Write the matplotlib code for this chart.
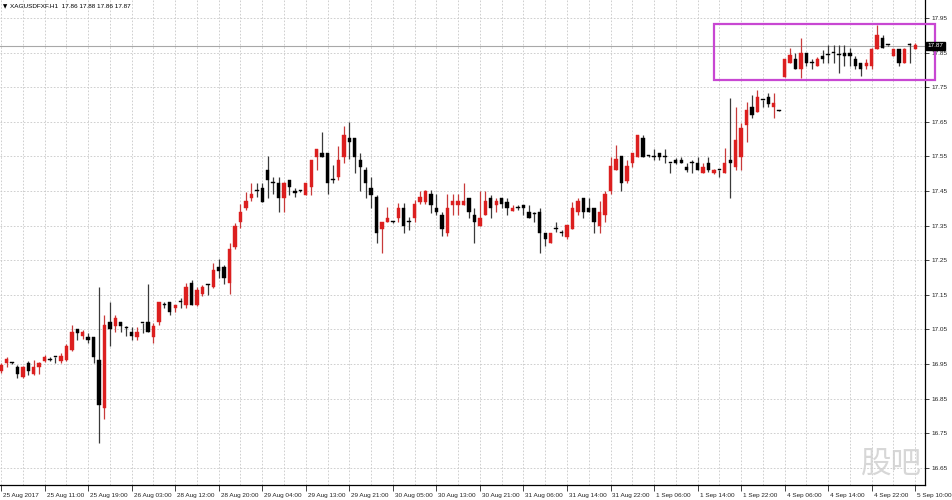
import matplotlib
matplotlib.use("Agg")
import matplotlib.pyplot as plt
import matplotlib.transforms as mtrans
from matplotlib.patches import Rectangle
import numpy as np

plt.rcParams['font.family'] = ['Liberation Sans', 'DejaVu Sans']

# XAGUSDFXF H1 candles, 25 Aug 2017 .. 5 Sep 2017
opens = [
    16.930, 16.953, 16.953, 16.941, 16.912, 16.953, 16.921, 16.941, 16.959, 16.962,
    16.970, 16.959, 16.962, 16.991, 17.051, 17.031, 17.028, 17.028, 16.962, 16.823,
    17.071, 17.060, 17.071, 17.054, 17.043, 17.028, 17.069, 17.071, 17.028, 17.071,
    17.121, 17.129, 17.112, 17.129, 17.121, 17.184, 17.121, 17.152, 17.178, 17.173,
    17.230, 17.230, 17.184, 17.288, 17.360, 17.401, 17.430, 17.450, 17.459, 17.511,
    17.473, 17.473, 17.430, 17.482, 17.450, 17.450, 17.438, 17.462, 17.548, 17.560,
    17.560, 17.482, 17.490, 17.548, 17.603, 17.603, 17.540, 17.511, 17.459, 17.433,
    17.340, 17.360, 17.360, 17.372, 17.401, 17.360, 17.372, 17.418, 17.418, 17.441,
    17.401, 17.381, 17.329, 17.410, 17.410, 17.410, 17.430, 17.381, 17.349, 17.381,
    17.430, 17.410, 17.430, 17.418, 17.392, 17.401, 17.410, 17.389, 17.384, 17.389,
    17.329, 17.300, 17.340, 17.329, 17.317, 17.340, 17.389, 17.430, 17.401, 17.401,
    17.349, 17.381, 17.450, 17.511, 17.551, 17.479, 17.531, 17.548, 17.603, 17.551,
    17.548, 17.560, 17.548, 17.531, 17.540, 17.540, 17.519, 17.531, 17.531, 17.502,
    17.531, 17.502, 17.511, 17.502, 17.540, 17.519, 17.548, 17.641, 17.693, 17.678,
    17.713, 17.722, 17.693, 17.681, 17.780, 17.820, 17.831, 17.803, 17.849, 17.820,
    17.811, 17.840, 17.843, 17.849, 17.843, 17.849, 17.849, 17.831, 17.820, 17.811,
    17.811, 17.860, 17.892, 17.872, 17.840, 17.860, 17.820, 17.872, 17.860]
highs = [
    16.953, 16.970, 16.956, 16.947, 16.944, 16.959, 16.962, 16.956, 16.976, 16.970,
    16.970, 16.982, 17.008, 17.063, 17.051, 17.048, 17.040, 17.028, 17.173, 17.092,
    17.129, 17.092, 17.071, 17.060, 17.057, 17.057, 17.069, 17.181, 17.069, 17.129,
    17.129, 17.129, 17.121, 17.141, 17.184, 17.193, 17.173, 17.178, 17.181, 17.242,
    17.253, 17.236, 17.300, 17.358, 17.412, 17.447, 17.473, 17.473, 17.473, 17.551,
    17.490, 17.490, 17.476, 17.482, 17.459, 17.453, 17.473, 17.540, 17.571, 17.621,
    17.560, 17.525, 17.580, 17.638, 17.649, 17.603, 17.560, 17.519, 17.490, 17.438,
    17.360, 17.404, 17.363, 17.415, 17.415, 17.375, 17.424, 17.450, 17.453, 17.453,
    17.441, 17.389, 17.441, 17.441, 17.441, 17.473, 17.430, 17.401, 17.450, 17.450,
    17.438, 17.430, 17.430, 17.430, 17.410, 17.410, 17.410, 17.410, 17.389, 17.401,
    17.329, 17.329, 17.360, 17.337, 17.352, 17.418, 17.430, 17.430, 17.430, 17.401,
    17.421, 17.450, 17.548, 17.583, 17.551, 17.540, 17.560, 17.612, 17.612, 17.554,
    17.571, 17.560, 17.571, 17.531, 17.545, 17.548, 17.531, 17.540, 17.548, 17.531,
    17.548, 17.514, 17.511, 17.574, 17.719, 17.693, 17.647, 17.707, 17.727, 17.742,
    17.713, 17.733, 17.733, 17.684, 17.831, 17.863, 17.849, 17.892, 17.849, 17.831,
    17.837, 17.858, 17.872, 17.872, 17.872, 17.872, 17.863, 17.840, 17.820, 17.831,
    17.863, 17.930, 17.901, 17.872, 17.860, 17.860, 17.863, 17.878, 17.878]
lows = [
    16.924, 16.941, 16.950, 16.910, 16.910, 16.918, 16.918, 16.921, 16.956, 16.959,
    16.953, 16.953, 16.959, 16.988, 17.019, 17.022, 17.011, 16.953, 16.722, 16.791,
    17.002, 17.043, 17.043, 17.031, 17.019, 17.019, 17.040, 17.043, 17.011, 17.063,
    17.112, 17.092, 17.100, 17.112, 17.112, 17.121, 17.118, 17.147, 17.149, 17.170,
    17.199, 17.181, 17.152, 17.282, 17.343, 17.395, 17.421, 17.433, 17.418, 17.430,
    17.441, 17.389, 17.389, 17.438, 17.433, 17.447, 17.438, 17.438, 17.511, 17.548,
    17.441, 17.473, 17.482, 17.531, 17.542, 17.502, 17.450, 17.430, 17.401, 17.300,
    17.271, 17.360, 17.358, 17.360, 17.329, 17.337, 17.360, 17.412, 17.412, 17.386,
    17.381, 17.320, 17.320, 17.381, 17.381, 17.410, 17.372, 17.300, 17.349, 17.381,
    17.372, 17.389, 17.401, 17.381, 17.392, 17.395, 17.381, 17.372, 17.360, 17.271,
    17.291, 17.300, 17.332, 17.320, 17.311, 17.340, 17.381, 17.372, 17.389, 17.329,
    17.329, 17.360, 17.441, 17.511, 17.450, 17.473, 17.519, 17.548, 17.548, 17.548,
    17.540, 17.540, 17.531, 17.502, 17.528, 17.531, 17.505, 17.502, 17.511, 17.502,
    17.505, 17.499, 17.490, 17.502, 17.430, 17.511, 17.511, 17.592, 17.661, 17.678,
    17.693, 17.693, 17.661, 17.681, 17.780, 17.820, 17.803, 17.777, 17.811, 17.803,
    17.811, 17.820, 17.820, 17.820, 17.791, 17.811, 17.811, 17.803, 17.782, 17.803,
    17.803, 17.860, 17.863, 17.869, 17.840, 17.811, 17.820, 17.820, 17.860]
closes = [
    16.947, 16.965, 16.953, 16.921, 16.941, 16.930, 16.941, 16.953, 16.970, 16.962,
    16.970, 16.973, 17.002, 17.043, 17.040, 17.043, 17.019, 16.970, 16.832, 17.063,
    17.051, 17.083, 17.060, 17.054, 17.031, 17.043, 17.069, 17.043, 17.060, 17.129,
    17.121, 17.100, 17.121, 17.129, 17.173, 17.121, 17.164, 17.173, 17.178, 17.222,
    17.219, 17.199, 17.282, 17.349, 17.389, 17.421, 17.441, 17.450, 17.418, 17.482,
    17.473, 17.430, 17.473, 17.462, 17.444, 17.450, 17.473, 17.540, 17.571, 17.548,
    17.473, 17.482, 17.540, 17.612, 17.592, 17.548, 17.519, 17.473, 17.438, 17.329,
    17.360, 17.372, 17.360, 17.401, 17.349, 17.360, 17.412, 17.433, 17.450, 17.410,
    17.389, 17.340, 17.401, 17.421, 17.421, 17.421, 17.389, 17.360, 17.372, 17.421,
    17.401, 17.421, 17.412, 17.401, 17.401, 17.401, 17.401, 17.372, 17.384, 17.329,
    17.311, 17.329, 17.340, 17.329, 17.352, 17.401, 17.421, 17.389, 17.389, 17.360,
    17.389, 17.441, 17.522, 17.542, 17.473, 17.522, 17.560, 17.612, 17.548, 17.551,
    17.548, 17.548, 17.548, 17.531, 17.531, 17.531, 17.511, 17.531, 17.511, 17.519,
    17.511, 17.511, 17.511, 17.531, 17.531, 17.597, 17.632, 17.684, 17.670, 17.722,
    17.713, 17.701, 17.704, 17.681, 17.831, 17.843, 17.803, 17.849, 17.820, 17.820,
    17.831, 17.831, 17.843, 17.849, 17.843, 17.840, 17.840, 17.811, 17.803, 17.820,
    17.860, 17.901, 17.863, 17.872, 17.860, 17.820, 17.860, 17.872, 17.872]

time_labels = ["25 Aug 2017", "25 Aug 11:00", "25 Aug 19:00", "26 Aug 03:00",
               "28 Aug 12:00", "28 Aug 20:00", "29 Aug 04:00", "29 Aug 13:00",
               "29 Aug 21:00", "30 Aug 05:00", "30 Aug 13:00", "30 Aug 21:00",
               "31 Aug 06:00", "31 Aug 14:00", "31 Aug 22:00", "1 Sep 06:00",
               "1 Sep 14:00", "1 Sep 22:00", "4 Sep 06:00", "4 Sep 14:00",
               "4 Sep 22:00", "5 Sep 10:00"]
price_ticks = [16.65, 16.75, 16.85, 16.95, 17.05, 17.15, 17.25,
               17.35, 17.45, 17.55, 17.65, 17.75, 17.85, 17.95]
bid = 17.87

o = np.array(opens); h = np.array(highs); l = np.array(lows); c = np.array(closes)
idx = np.arange(len(o))
up = c > o
bull_col = '#dc1f1f'
bear_col = '#000000'
cols = np.where(up, bull_col, bear_col)
wick_cols = np.where(up, '#c83a3a', '#3a3a3a')

fig = plt.figure(figsize=(9.53, 5.0), dpi=100)
ax = fig.add_axes([0.0, 0.03, 925/953, 0.97])

ax.vlines(idx, l, h, colors=wick_cols, linewidth=0.9, zorder=3)
body_h = np.maximum(np.abs(c - o), 0.0025)
ax.bar(idx, body_h, bottom=np.minimum(o, c), width=0.62, color=cols,
       edgecolor=cols, linewidth=0.3, zorder=4)

ax.set_xlim(-0.2, 169.8)
ax.set_ylim(16.600, 18.002)

# bid line
ax.axhline(bid, color='#a8a8a8', linewidth=0.8, zorder=2)

# axes / ticks
ax.yaxis.tick_right()
ax.set_yticks(price_ticks)
ax.set_yticklabels(['%.2f' % p for p in price_ticks])
ax.set_xticks(np.arange(0, 8 * len(time_labels), 8))
ax.set_xticklabels(time_labels, ha='left')
ax.set_xticks(np.arange(0, 170, 4), minor=True)
ax.tick_params(axis='y', direction='out', length=3, width=0.6, pad=2,
               labelsize=4.6, colors='#222222')
ax.tick_params(axis='x', which='major', direction='out', length=4, width=0.6,
               pad=1.5, labelsize=4.6, colors='#222222')
ax.tick_params(axis='x', which='minor', length=0)

ax.grid(True, axis='y', which='major', color='#c8c8c8', linestyle=(0, (2, 2)),
        linewidth=0.6)
ax.grid(True, axis='x', which='both', color='#c8c8c8', linestyle=(0, (2, 2)),
        linewidth=0.6)
ax.set_axisbelow(True)

for s in ['top', 'left']:
    ax.spines[s].set_visible(False)
ax.spines['right'].set_linewidth(0.9)
ax.spines['bottom'].set_linewidth(0.9)

# shift x tick labels slightly right of the tick mark
offset = mtrans.ScaledTranslation(2 / 100, 0, fig.dpi_scale_trans)
for lab in ax.get_xticklabels():
    lab.set_transform(lab.get_transform() + offset)

# current price box
ax.text(1.003, bid, '17.87', transform=ax.get_yaxis_transform(), fontsize=4.6,
        color='white', va='center', ha='left', zorder=10, clip_on=False,
        bbox=dict(boxstyle='square,pad=0.25', facecolor='black', edgecolor='black'))

# highlight box
ax.add_patch(Rectangle((131.1, 17.771), 40.6, 0.162, fill=False,
                       edgecolor='#c847d2', linewidth=1.6, clip_on=False, zorder=8))

# header
fig.text(0.003, 0.986, '\u25bc', fontsize=4, color='black', va='center',
         family=['DejaVu Sans'])
fig.text(0.011, 0.986, 'XAGUSDFXF.H1  17.86 17.88 17.86 17.87', fontsize=4.6,
         color='black', va='center')

# watermark
fig.text(0.935, 0.072, '股吧', fontsize=22, color='#d0d0d0', alpha=0.85,
         ha='center', va='center', family=['Noto Sans CJK SC'], zorder=20)

fig.savefig('out.png', dpi=100)
